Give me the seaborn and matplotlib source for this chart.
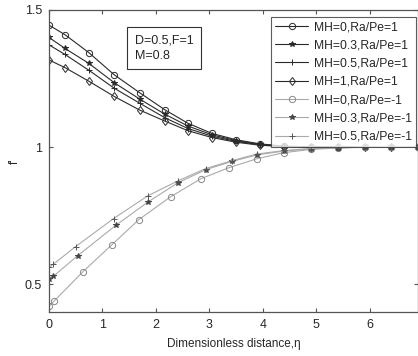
import pandas as pd
import numpy as np
import seaborn as sns
import matplotlib.pyplot as plt

# eta grids (marker positions differ a little from curve to curve)
eta_pos = [0, 0.3, 0.75, 1.22, 1.7, 2.17, 2.6, 3.05, 3.5, 3.95, 4.4, 4.9, 5.4, 5.9, 6.4, 6.9]
eta_mh0_neg = [0, 0.09, 0.64, 1.18, 1.68, 2.28, 2.84, 3.36, 3.89, 4.39, 4.9, 5.4, 5.9, 6.4, 6.9]
eta_mh03_neg = [0, 0.08, 0.54, 1.25, 1.85, 2.41, 2.93, 3.42, 3.89, 4.4, 4.9, 5.4, 5.9, 6.4, 6.9]
eta_mh05_neg = [0, 0.08, 0.5, 1.21, 1.85, 2.41, 2.93, 3.42, 3.89, 4.4, 4.9, 5.4, 5.9, 6.4, 6.9]

# Ra/Pe = 1
f_mh0_pos = [1.445, 1.41, 1.344, 1.264, 1.198, 1.136, 1.087, 1.05, 1.027, 1.012, 1.004, 1.001, 1.0, 1.0, 1.0, 1.0]
f_mh03_pos = [1.40, 1.36, 1.305, 1.235, 1.175, 1.12, 1.077, 1.045, 1.024, 1.01, 1.003, 1.001, 1.0, 1.0, 1.0, 1.0]
f_mh05_pos = [1.373, 1.338, 1.28, 1.215, 1.16, 1.107, 1.068, 1.04, 1.021, 1.009, 1.003, 1.0, 1.0, 1.0, 1.0, 1.0]
f_mh1_pos = [1.318, 1.29, 1.24, 1.185, 1.135, 1.095, 1.06, 1.035, 1.018, 1.007, 1.002, 1.0, 1.0, 1.0, 1.0, 1.0]
# Ra/Pe = -1
f_mh0_neg = [0.42, 0.438, 0.547, 0.645, 0.736, 0.82, 0.885, 0.925, 0.958, 0.98, 0.992, 0.997, 1.0, 1.0, 1.0]
f_mh03_neg = [0.518, 0.529, 0.605, 0.715, 0.80, 0.87, 0.918, 0.948, 0.972, 0.986, 0.994, 0.998, 1.0, 1.0, 1.0]
f_mh05_neg = [0.562, 0.573, 0.638, 0.74, 0.823, 0.877, 0.922, 0.951, 0.975, 0.988, 0.995, 0.998, 1.0, 1.0, 1.0]

dark, light = "#2a2a2a", "#aaaaaa"
series = [
    ("MH=0,Ra/Pe=1", eta_pos, f_mh0_pos, "o", dark, dark),
    ("MH=0.3,Ra/Pe=1", eta_pos, f_mh03_pos, "*", dark, dark),
    ("MH=0.5,Ra/Pe=1", eta_pos, f_mh05_pos, "+", dark, dark),
    ("MH=1,Ra/Pe=1", eta_pos, f_mh1_pos, "d", dark, dark),
    ("MH=0,Ra/Pe=-1", eta_mh0_neg, f_mh0_neg, "o", light, "#888888"),
    ("MH=0.3,Ra/Pe=-1", eta_mh03_neg, f_mh03_neg, "*", light, "#444444"),
    ("MH=0.5,Ra/Pe=-1", eta_mh05_neg, f_mh05_neg, "+", light, "#555555"),
]

sns.set_style("ticks")
plt.rcParams["font.family"] = ["Liberation Sans", "DejaVu Sans"]

fig = plt.figure(figsize=(4.18, 3.56), dpi=100)
ax = fig.add_axes([0.117, 0.124, 0.883, 0.848])

for label, x, y, mk, col, mcol in series:
    df = pd.DataFrame({"eta": x, "f": y})
    sns.lineplot(data=df, x="eta", y="f", ax=ax, color=col, lw=0.8,
                 marker=mk, markersize={"o": 4.5, "*": 4, "+": 5, "d": 4.5}[mk],
                 markerfacecolor="none" if mk in ("o", "d") else mcol,
                 markeredgecolor=mcol, markeredgewidth=0.7, label=label)

ax.set_xlim(0, 6.9)
ax.set_ylim(0.4, 1.5)
ax.set_xticks([0, 1, 2, 3, 4, 5, 6])
ax.set_yticks([0.5, 1, 1.5])
ax.set_yticklabels(["0.5", "1", "1.5"])
ax.tick_params(direction="in", length=3, width=0.8, labelsize=9, top=True, right=True,
               color="#555555", pad=5)
for sp in ax.spines.values():
    sp.set_color("#555555")
    sp.set_linewidth(0.9)

ax.set_xlabel("Dimensionless distance,\u03b7", fontsize=8.5, labelpad=5)
ax.set_ylabel("f'", fontsize=8.5)
ax.yaxis.set_label_coords(-0.075, 0.5)

ax.text(0.232, 0.919, "D=0.5,F=1\nM=0.8", transform=ax.transAxes, fontsize=9,
        va="top", ha="left", linespacing=1.35,
        bbox=dict(boxstyle="square,pad=0.6", fc="white", ec="#333333", lw=0.8))

leg = ax.legend(loc="upper right", bbox_to_anchor=(0.995, 0.977), fontsize=8.7, frameon=True,
                fancybox=False, edgecolor="#333333", handlelength=2.7, borderpad=0.35,
                labelspacing=0.52, handletextpad=0.5, borderaxespad=0)
leg.get_frame().set_linewidth(0.8)

plt.savefig("out.png", dpi=100)
